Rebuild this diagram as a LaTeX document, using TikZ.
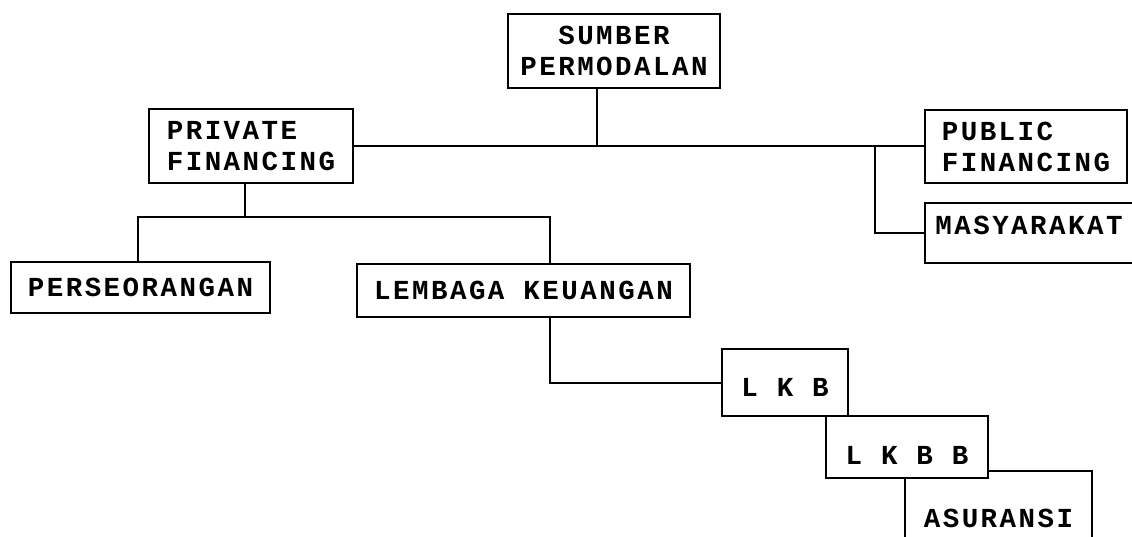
\documentclass[tikz,border=0pt]{standalone}
\usepackage{fontspec}
\newfontfamily\boxfont{Liberation Mono}[LetterSpace=9]

\begin{document}
\begin{tikzpicture}[x=1pt,y=-1pt,
  box/.style={draw,line width=2pt,fill=white,inner sep=0pt,align=left,
    font=\boxfont\bfseries\fontsize{27.5}{31}\selectfont},
  link/.style={line width=2pt}]

% Page frame
\clip (0,0) rectangle (1132,536);

% Draw the boxes
\node[box,align=center,minimum width=212pt,minimum height=74pt] (sumber) at (614,51) {SUMBER\\PERMODALAN};
\node[box,minimum width=204pt,minimum height=74pt] (private) at (251,146) {PRIVATE\\FINANCING};
\node[box,minimum width=202pt,minimum height=73pt] (public) at (1026,146.5) {PUBLIC\\FINANCING};
\node[box,anchor=north,minimum width=208pt,text height=31pt,text depth=29pt] (masy) at (1029,202) {MASYARAKAT};
\node[box,minimum width=259pt,minimum height=51pt] (pers) at (140.5,287.5) {PERSEORANGAN};
\node[box,minimum width=333pt,minimum height=53pt] (lemb) at (523.5,290.5) {LEMBAGA KEUANGAN};
\node[box,anchor=north,minimum width=126pt,text height=47.5pt,text depth=19.5pt] (lkb) at (785,348) {L K B};
\node[box,anchor=north,minimum width=187pt,text height=56.5pt,text depth=40pt] (asur) at (998.5,470) {ASURANSI};
\node[box,anchor=north,minimum width=162pt,text height=48.5pt,text depth=13.5pt] (lkbb) at (907,415) {L K B B};

% Draw the top level links
\coordinate (top) at (597,146);
\draw[link] (sumber.south -| top) -- (top);
\draw[link] (private.east) -- (private.east -| public.west);
\coordinate (pubsplit) at (875,146);
\draw[link] (pubsplit) |- (masy.west);

% Draw the private financing links
\coordinate (privsplit) at (245,217);
\coordinate (persdrop) at (138,217);
\coordinate (lembdrop) at (550,217);
\draw[link] (private.south -| privsplit) -- (privsplit);
\draw[link] (persdrop |- pers.north) -- (persdrop) -- (lembdrop) -- (lembdrop |- lemb.north);
\draw[link] (lemb.south -| lembdrop) |- (lkb.west);

\end{tikzpicture}
\end{document}
